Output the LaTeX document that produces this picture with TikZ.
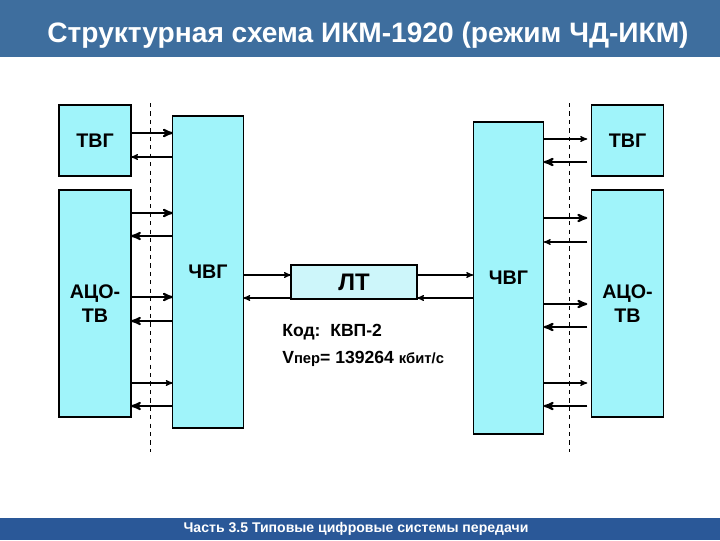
\documentclass[tikz,border=0pt]{standalone}
\usepackage{fontspec}
\setmainfont{Liberation Sans}
\usepackage{tikz}
\usetikzlibrary{arrows,positioning}
\definecolor{TitleBlue}{RGB}{62,110,158}
\definecolor{FootBlue}{RGB}{42,88,152}
\definecolor{BoxCyan}{RGB}{160,244,250}
\definecolor{LtCyan}{RGB}{205,246,250}

\begin{document}
\begin{tikzpicture}[>=stealth',
                    x=0.025cm, y=-0.025cm,
                    blk/.style = {draw, fill=BoxCyan, line width=0.9pt, outer sep=0pt, inner sep=0pt,
                                  align=center, font=\fontsize{14}{17}\selectfont\bfseries},
                    thn/.style = {->, line width=0.8pt},
                    thk/.style = {->, line width=1.4pt},
                    sep/.style = {dashed, line width=0.6pt},
                    txt/.style = {anchor=base west, inner sep=0pt, font=\fontsize{12.5}{14}\selectfont\bfseries}
                    ]
\tikzset{
  small/.style={minimum width=1.8cm, minimum height=1.775cm},
  tall/.style={minimum width=1.8cm, minimum height=5.675cm},
  chvg/.style={minimum width=1.76cm, minimum height=7.8cm},
}

\useasboundingbox (0,0) rectangle (720,540);

% bars
\fill[TitleBlue] (0,0) rectangle (720,57);
\fill[FootBlue] (0,518) rectangle (720,540);
\node[anchor=base, text=white, font=\fontsize{20}{24}\selectfont\bfseries] (title) at (368,42)
  {Структурная схема ИКМ-1920 (режим ЧД-ИКМ)};
\node[anchor=base, text=white, font=\fontsize{10}{12}\selectfont\bfseries] (foot) at (356,532)
  {Часть 3.5 Типовые цифровые системы передачи};

% blocks
\node[blk,small] (tvgL)  at (95,140.5)  {ТВГ};
\node[blk,tall]  (acoL)  at (95,303.5)  {АЦО-\\ТВ};
\node[blk,chvg]  (chvgL) at (208,272)   {ЧВГ};
\node[blk,fill=LtCyan,minimum width=3.15cm,minimum height=0.85cm,
      font=\fontsize{17}{19}\selectfont\bfseries] (lt) at (354,282) {ЛТ};
\node[blk,chvg]  (chvgR) at (508.5,278) {ЧВГ};
\node[blk,small] (tvgR)  at (627.5,140.5) {ТВГ};
\node[blk,tall]  (acoR)  at (627.5,303.5) {АЦО-\\ТВ};

\node[txt] (code) at (282,336) {Код:\ \ КВП-2};
\node[txt] (rate) at (282,363) {V{\fontsize{10.5}{12}\selectfont пер}= 139264 {\fontsize{10.5}{12}\selectfont кбит/с}};

% dashed borders
\coordinate (dL1) at (150,103);
\coordinate (dL2) at (150,452);
\coordinate (dR1) at (569,103);
\coordinate (dR2) at (569,452);
\draw[sep] (dL1) -- (dL2);
\draw[sep] (dR1) -- (dR2);

% left side
\draw[thk] (tvgL.east |- 0,133) -- (chvgL.west |- 0,133);
\draw[thn] (chvgL.west |- 0,157) -- (tvgL.east |- 0,157);
\draw[thk] (acoL.east |- 0,213) -- (chvgL.west |- 0,213);
\draw[thk] (chvgL.west |- 0,236) -- (acoL.east |- 0,236);
\draw[thk] (acoL.east |- 0,297) -- (chvgL.west |- 0,297);
\draw[thk] (chvgL.west |- 0,321) -- (acoL.east |- 0,321);
\draw[thn] (acoL.east |- 0,383) -- (chvgL.west |- 0,383);
\draw[thk] (chvgL.west |- 0,406) -- (acoL.east |- 0,406);

% line terminal
\draw[thn] (chvgL.east |- 0,275) -- (lt.west |- 0,275);
\draw[thn] (lt.west |- 0,298) -- (chvgL.east |- 0,298);
\draw[thn] (lt.east |- 0,275) -- (chvgR.west |- 0,275);
\draw[thn] (chvgR.west |- 0,298) -- (lt.east |- 0,298);

% right side
\draw[thn,shorten >=3pt] (chvgR.east |- 0,139) -- (tvgR.west |- 0,139);
\draw[thk,shorten <=3pt] (tvgR.west |- 0,162) -- (chvgR.east |- 0,162);
\draw[thk,shorten >=3pt] (chvgR.east |- 0,218) -- (acoR.west |- 0,218);
\draw[thn,shorten <=3pt] (acoR.west |- 0,242) -- (chvgR.east |- 0,242);
\draw[thk,shorten >=3pt] (chvgR.east |- 0,304) -- (acoR.west |- 0,304);
\draw[thk,shorten <=3pt] (acoR.west |- 0,327) -- (chvgR.east |- 0,327);
\draw[thn,shorten >=3pt] (chvgR.east |- 0,383) -- (acoR.west |- 0,383);
\draw[thk,shorten <=3pt] (acoR.west |- 0,406) -- (chvgR.east |- 0,406);
\end{tikzpicture}
\end{document}
